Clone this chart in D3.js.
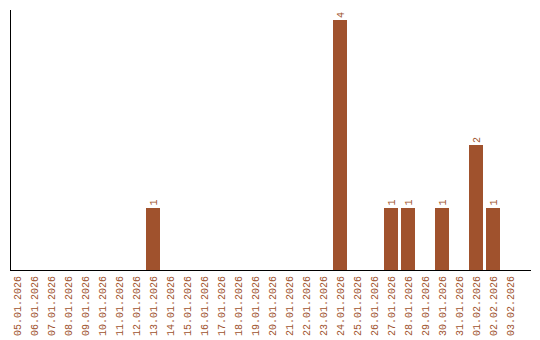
<!DOCTYPE html>
<html>
<head>
<meta charset="utf-8">
<script src="https://cdn.jsdelivr.net/npm/d3@7"></script>
<style>
  body { margin: 0; background: #fff; }
  svg text { font-family: "Liberation Mono", "Courier New", monospace; font-size: 10px; fill: #a0522d; }
</style>
</head>
<body>
<div id="chart"></div>
<script>
// Data
const dates = ['05.01.2026', '06.01.2026', '07.01.2026', '08.01.2026', '09.01.2026',
    '10.01.2026', '11.01.2026', '12.01.2026', '13.01.2026', '14.01.2026',
    '15.01.2026', '16.01.2026', '17.01.2026', '18.01.2026', '19.01.2026',
    '20.01.2026', '21.01.2026', '22.01.2026', '23.01.2026', '24.01.2026',
    '25.01.2026', '26.01.2026', '27.01.2026', '28.01.2026', '29.01.2026',
    '30.01.2026', '31.01.2026', '01.02.2026', '02.02.2026', '03.02.2026'];
const counts = [0, 0, 0, 0, 0, 0, 0, 0, 1, 0,
    0, 0, 0, 0, 0, 0, 0, 0, 0, 4,
    0, 0, 1, 1, 0, 1, 0, 2, 1, 0];

const width = 540, height = 340;
const plotLeft = 10, plotTop = 20, plotBottom = 270;
const barColor = '#a0522d';

const svg = d3.select('#chart')
    .append('svg')
    .attr('width', width)
    .attr('height', height);

const x = d3.scaleBand()
    .domain(dates)
    .range([plotLeft, plotLeft + 17 * dates.length - 3])
    .paddingInner(3 / 17)
    .paddingOuter(0);

const y = d3.scaleLinear()
    .domain([0, d3.max(counts)])
    .range([plotBottom, plotTop]);

const data = dates.map((d, i) => ({ date: d, value: counts[i] }));

// Bars
svg.selectAll('.bar')
    .data(data.filter(d => d.value > 0))
    .enter()
    .append('rect')
    .attr('class', 'bar')
    .attr('x', d => x(d.date))
    .attr('y', d => y(d.value))
    .attr('width', x.bandwidth())
    .attr('height', d => plotBottom - y(d.value))
    .attr('fill', barColor)
    .attr('shape-rendering', 'crispEdges');

// Value labels
svg.selectAll('.value')
    .data(data.filter(d => d.value > 0))
    .enter()
    .append('text')
    .attr('class', 'value')
    .attr('transform', d => `translate(${x(d.date) + x.bandwidth() / 2},${y(d.value) - 2}) rotate(-90)`)
    .attr('dy', '0.35em')
    .attr('text-anchor', 'start')
    .text(d => d.value);

// Axes
svg.append('line')
    .attr('x1', plotLeft + 0.5).attr('x2', plotLeft + 0.5)
    .attr('y1', 10).attr('y2', plotBottom)
    .attr('stroke', '#000')
    .attr('shape-rendering', 'crispEdges');

svg.append('line')
    .attr('x1', plotLeft).attr('x2', 531)
    .attr('y1', plotBottom + 0.5).attr('y2', plotBottom + 0.5)
    .attr('stroke', '#000')
    .attr('shape-rendering', 'crispEdges');

// Date labels
svg.selectAll('.date')
    .data(dates)
    .enter()
    .append('text')
    .attr('class', 'date')
    .attr('transform', d => `translate(${x(d) + x.bandwidth() / 2},276) rotate(-90)`)
    .attr('dy', '0.35em')
    .attr('text-anchor', 'end')
    .text(d => d);
</script>
</body>
</html>
